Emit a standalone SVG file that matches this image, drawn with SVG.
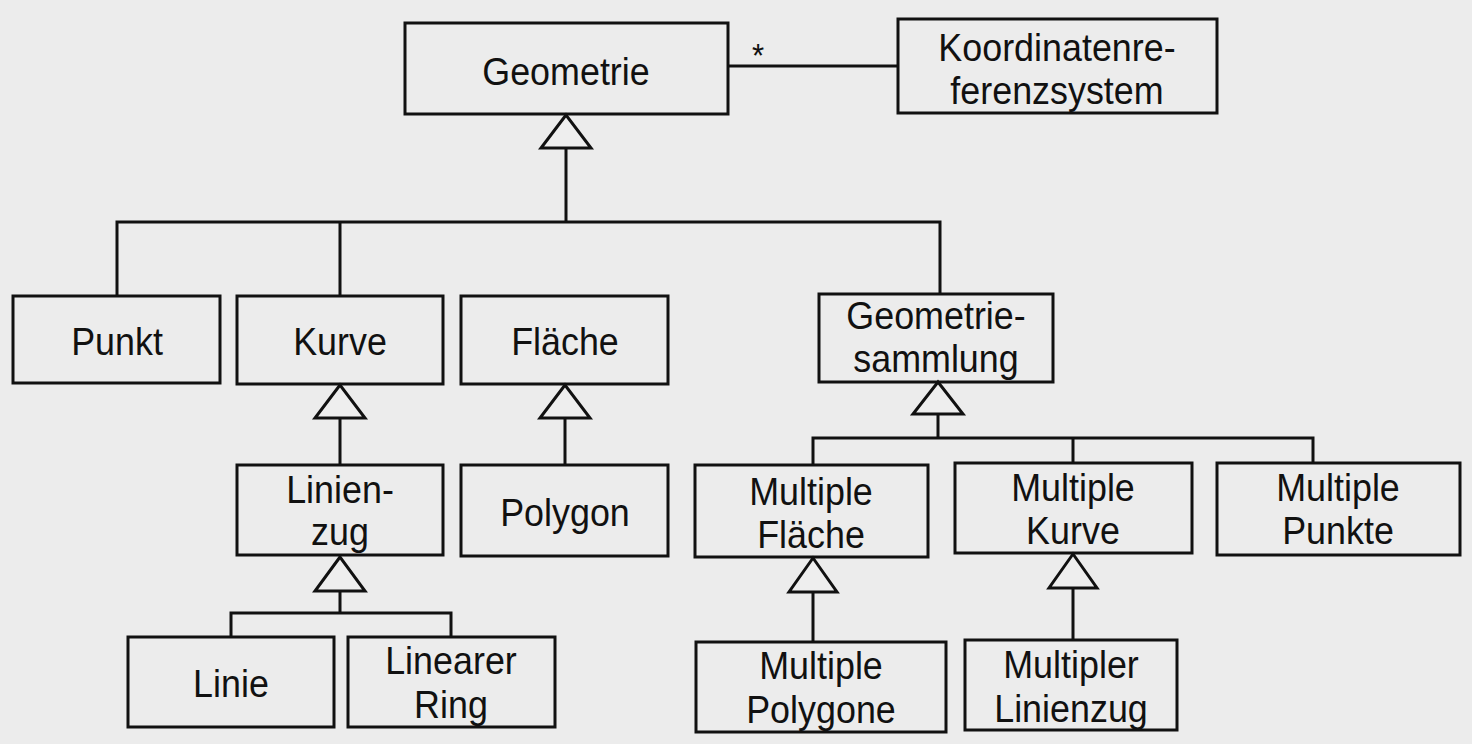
<svg xmlns="http://www.w3.org/2000/svg" width="1472" height="744" viewBox="0 0 1472 744">
<defs>
<style>
.box{fill:none;stroke:#111;stroke-width:3}
.ln{fill:none;stroke:#111;stroke-width:3}
.tri{fill:#eeeeee;stroke:#111;stroke-width:3;stroke-linejoin:miter}
text{font-family:"Liberation Sans",Arial,sans-serif;font-size:39px;fill:#111;text-anchor:middle;transform-box:fill-box;transform-origin:center;transform:scaleX(0.92)}
</style>
</defs>
<rect x="0" y="0" width="1472" height="744" fill="#ececec"/>
<g id="connectors">
<line class="ln" x1="728" y1="66" x2="898" y2="66"/>
<text x="758" y="67" style="font-size:34px">*</text>
<polyline class="ln" points="566,148 566,222"/>
<polyline class="ln" points="117,296 117,222 940,222 940,294"/>
<line class="ln" x1="340" y1="222" x2="340" y2="296"/>
<polygon class="tri" points="566,115 541,148 591,148"/>
<line class="ln" x1="340" y1="418" x2="340" y2="465"/>
<polygon class="tri" points="340,385 315,418 365,418"/>
<line class="ln" x1="565" y1="418" x2="565" y2="465"/>
<polygon class="tri" points="565,385 540,418 590,418"/>
<polyline class="ln" points="340,591 340,613"/>
<polyline class="ln" points="231,637 231,613 451,613 451,637"/>
<polygon class="tri" points="340,557 315,591 365,591"/>
<polyline class="ln" points="938,414 938,438"/>
<polyline class="ln" points="813,465 813,438 1313,438 1313,463"/>
<line class="ln" x1="1073" y1="438" x2="1073" y2="463"/>
<polygon class="tri" points="938,382 913,414 963,414"/>
<line class="ln" x1="813" y1="592" x2="813" y2="642"/>
<polygon class="tri" points="813,558 789,592 837,592"/>
<line class="ln" x1="1073" y1="588" x2="1073" y2="640"/>
<polygon class="tri" points="1073,554 1049,588 1097,588"/>
</g>
<g id="geometrie"><rect class="box" x="405" y="23" width="323" height="91"/><text x="566" y="85">Geometrie</text></g>
<g id="koordinatenreferenzsystem"><rect class="box" x="898" y="19" width="319" height="94"/><text x="1057" y="61">Koordinatenre-</text><text x="1057" y="104">ferenzsystem</text></g>
<g id="punkt"><rect class="box" x="13" y="296" width="207" height="87"/><text x="117" y="355">Punkt</text></g>
<g id="kurve"><rect class="box" x="237" y="296" width="206" height="88"/><text x="340" y="355">Kurve</text></g>
<g id="flaeche"><rect class="box" x="461" y="296" width="207" height="88"/><text x="565" y="355">Fläche</text></g>
<g id="geometriesammlung"><rect class="box" x="819" y="294" width="234" height="88"/><text x="936" y="329">Geometrie-</text><text x="936" y="372">sammlung</text></g>
<g id="linienzug"><rect class="box" x="237" y="465" width="206" height="90"/><text x="340" y="503">Linien-</text><text x="340" y="545">zug</text></g>
<g id="polygon"><rect class="box" x="461" y="465" width="207" height="91"/><text x="565" y="526">Polygon</text></g>
<g id="multiple-flaeche"><rect class="box" x="695" y="465" width="233" height="92"/><text x="811" y="505">Multiple</text><text x="811" y="548">Fläche</text></g>
<g id="multiple-kurve"><rect class="box" x="955" y="463" width="237" height="90"/><text x="1073" y="501">Multiple</text><text x="1073" y="544">Kurve</text></g>
<g id="multiple-punkte"><rect class="box" x="1217" y="463" width="243" height="92"/><text x="1338" y="501">Multiple</text><text x="1338" y="544">Punkte</text></g>
<g id="linie"><rect class="box" x="128" y="637" width="206" height="90"/><text x="231" y="697">Linie</text></g>
<g id="linearer-ring"><rect class="box" x="348" y="637" width="207" height="90"/><text x="451" y="674">Linearer</text><text x="451" y="718">Ring</text></g>
<g id="multiple-polygone"><rect class="box" x="696" y="642" width="250" height="90"/><text x="821" y="679">Multiple</text><text x="821" y="723">Polygone</text></g>
<g id="multipler-linienzug"><rect class="box" x="965" y="640" width="212" height="90"/><text x="1071" y="678">Multipler</text><text x="1071" y="722">Linienzug</text></g>
</svg>
